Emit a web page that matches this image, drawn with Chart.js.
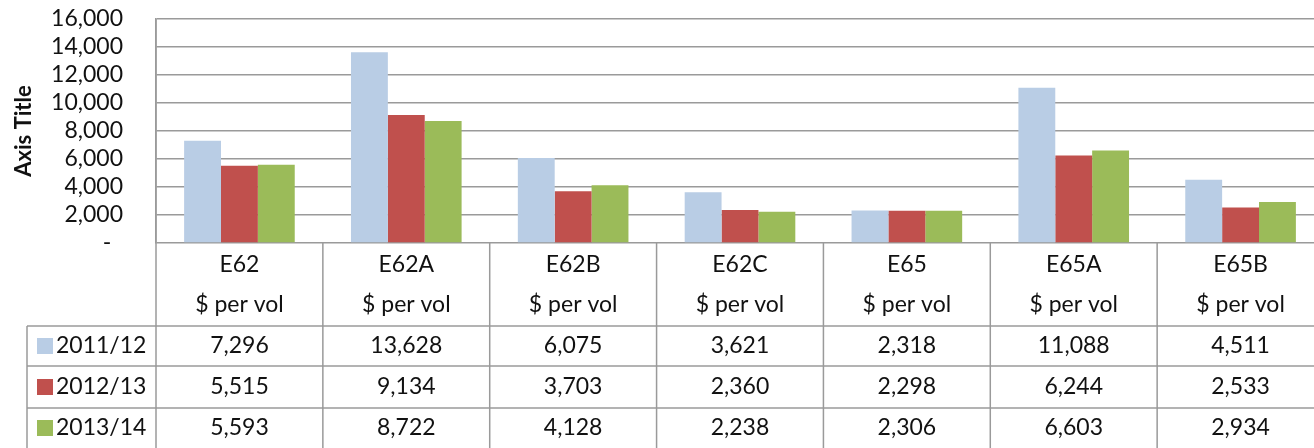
<!DOCTYPE html>
<html>
<head>
<meta charset="utf-8">
<script src="https://cdn.jsdelivr.net/npm/chart.js@4.4.1/dist/chart.umd.min.js"></script>
<style>
  html, body { margin: 0; padding: 0; background: #fff; overflow: hidden; }
  #wrap { width: 1314px; height: 448px; overflow: hidden; }
</style>
</head>
<body>
<div id="wrap"><canvas id="chart" width="1330" height="448"></canvas></div>
<script>
const categories = ["E62", "E62A", "E62B", "E62C", "E65", "E65A", "E65B"];
const unitLabel = "$ per vol";
const seriesNames = ["2011/12", "2012/13", "2013/14"];
const values2011 = [7296, 13628, 6075, 3621, 2318, 11088, 4511];
const values2012 = [5515, 9134, 3703, 2360, 2298, 6244, 2533];
const values2013 = [5593, 8722, 4128, 2238, 2306, 6603, 2934];
const seriesColors = ["#b9cde5", "#c0504d", "#9bbb59"];
const yTicks = [0, 2000, 4000, 6000, 8000, 10000, 12000, 14000, 16000];

const lineColor = "#9a9a9a";
const textFont = "23px Lato";
const textColor = "#111";

// Excel-style data table under the plot
const dataTable = {
  id: "dataTable",
  afterDraw(chart) {
    const ctx = chart.ctx;
    const area = chart.chartArea;
    const x = chart.scales.x;
    const bottom = chart.height;
    const catW = (area.right - area.left) / categories.length;
    const rows = [values2011, values2012, values2013];
    const rowLines = [area.bottom + 83, area.bottom + 123, area.bottom + 165];
    const rowCenters = [area.bottom + 103, area.bottom + 144, area.bottom + 185];
    const tableLeft = 27;

    ctx.save();
    ctx.strokeStyle = lineColor;
    ctx.lineWidth = 1.5;

    // vertical lines
    ctx.beginPath();
    for (let i = 0; i <= categories.length; i++) {
      const xx = area.left + i * catW;
      ctx.moveTo(xx, i === 0 ? area.top : area.bottom);
      ctx.lineTo(xx, bottom);
    }
    ctx.moveTo(tableLeft, rowLines[0]);
    ctx.lineTo(tableLeft, bottom);
    rowLines.forEach(y => {
      ctx.moveTo(tableLeft, y);
      ctx.lineTo(area.right, y);
    });
    ctx.stroke();

    ctx.font = textFont;
    ctx.fillStyle = textColor;
    ctx.textAlign = "center";
    ctx.textBaseline = "middle";
    categories.forEach((cat, i) => {
      const cx = x.getPixelForValue(i);
      ctx.fillText(cat, cx, area.bottom + 22);
      ctx.fillText(unitLabel, cx, area.bottom + 62);
      rows.forEach((row, r) => {
        ctx.fillText(row[i].toLocaleString("en-US"), cx, rowCenters[r]);
      });
    });

    // row headers with legend keys
    ctx.textAlign = "left";
    seriesNames.forEach((name, r) => {
      ctx.fillStyle = seriesColors[r];
      ctx.fillRect(37, rowCenters[r] - 8, 16, 16);
      ctx.fillStyle = textColor;
      ctx.fillText(name, 56, rowCenters[r]);
    });
    ctx.restore();
  }
};

new Chart(document.getElementById("chart"), {
  type: "bar",
  data: {
    labels: categories,
    datasets: [
      { label: seriesNames[0], data: values2011, backgroundColor: seriesColors[0] },
      { label: seriesNames[1], data: values2012, backgroundColor: seriesColors[1] },
      { label: seriesNames[2], data: values2013, backgroundColor: seriesColors[2] }
    ]
  },
  options: {
    responsive: false,
    devicePixelRatio: 1,
    animation: false,
    layout: { padding: { top: 19, right: 6, bottom: 205, left: 0 } },
    datasets: { bar: { categoryPercentage: 0.663, barPercentage: 1.0 } },
    plugins: {
      legend: { display: false },
      tooltip: { enabled: false }
    },
    scales: {
      x: { display: false },
      y: {
        min: 0,
        max: 16000,
        afterFit(scale) {
          scale.width = 156;
          scale.paddingTop = 0;
          scale.paddingBottom = 0;
        },
        afterBuildTicks(scale) { scale.ticks = yTicks.map(v => ({ value: v })); },
        ticks: {
          autoSkip: false,
          padding: 33,
          color: textColor,
          font: { family: "Lato", size: 23 },
          callback: v => (v === 0 ? "-  " : v.toLocaleString("en-US"))
        },
        grid: { color: lineColor, lineWidth: 1.5, drawTicks: false },
        border: { color: lineColor, width: 1.5 },
        title: {
          display: true,
          text: "Axis Title",
          color: textColor,
          font: { family: "Lato", size: 22, weight: "bold" },
          padding: { top: 11, bottom: 0 }
        }
      }
    }
  },
  plugins: [dataTable]
});
</script>
</body>
</html>
